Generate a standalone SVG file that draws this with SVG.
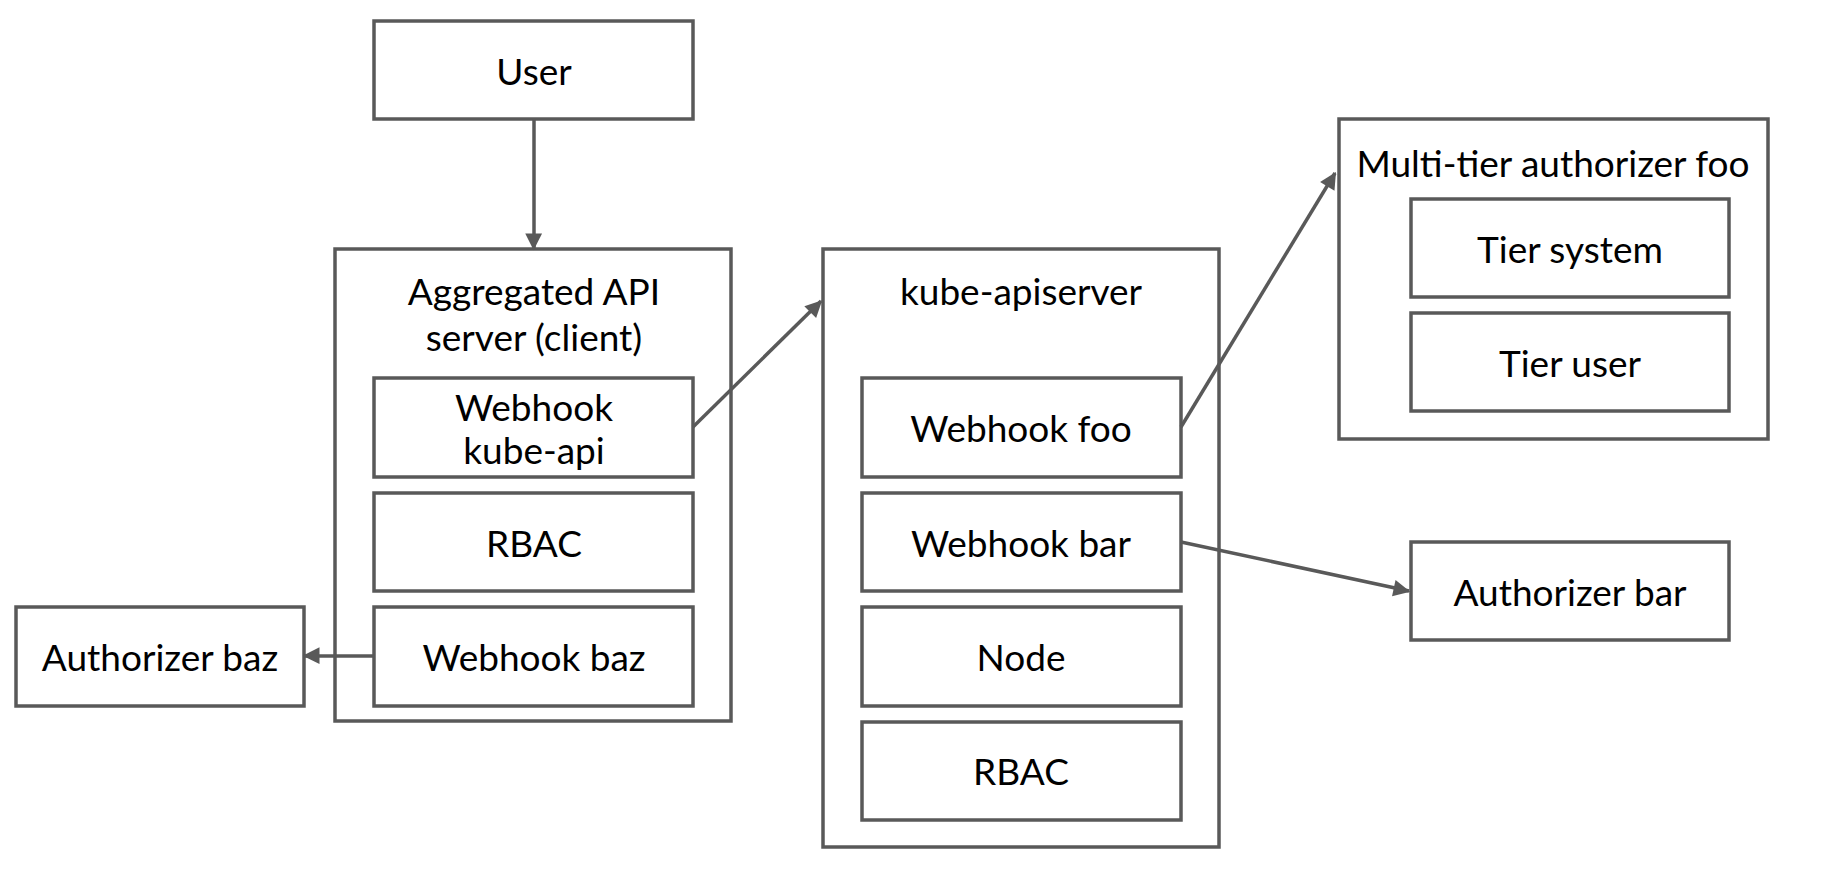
<svg xmlns="http://www.w3.org/2000/svg" width="1832" height="870" viewBox="0 0 1832 870">
<style>
rect{fill:#fff;stroke:#595959;stroke-width:3.5}
text{font-family:Lato,"Noto Sans",sans-serif;font-size:37px;fill:#000;text-anchor:middle;dominant-baseline:central}
.c line{stroke:#595959;stroke-width:3.5;marker-end:url(#a)}
</style>
<defs><marker id="a" viewBox="0 0 10 10" refX="9" refY="5" markerWidth="6" markerHeight="6" orient="auto" markerUnits="userSpaceOnUse" style="overflow:visible"><path d="M0,0L10,5L0,10z" fill="#595959" transform="scale(2.8) translate(-6,-3)"/></marker></defs>
<rect width="1832" height="870" style="fill:#fff;stroke:none"/>
<g id="user"><rect x="374" y="21" width="319" height="98"/><text x="534" y="70">User</text></g>
<g id="agg"><rect x="335" y="249" width="396" height="472"/><text x="534" y="290">Aggregated API</text><text x="534" y="336">server (client)</text></g>
<g id="whka"><rect x="374" y="378" width="319" height="99"/><text x="534" y="406">Webhook</text><text x="534" y="449">kube-api</text></g>
<g id="rbac1"><rect x="374" y="493" width="319" height="98"/><text x="534" y="542">RBAC</text></g>
<g id="whbaz"><rect x="374" y="607" width="319" height="99"/><text x="534" y="656">Webhook baz</text></g>
<g id="authbaz"><rect x="16" y="607" width="288" height="99"/><text x="160" y="656">Authorizer baz</text></g>
<g id="kube"><rect x="823" y="249" width="396" height="598"/><text x="1021" y="290">kube-apiserver</text></g>
<g id="whfoo"><rect x="862" y="378" width="319" height="99"/><text x="1021" y="427">Webhook foo</text></g>
<g id="whbar"><rect x="862" y="493" width="319" height="98"/><text x="1021" y="542">Webhook bar</text></g>
<g id="node"><rect x="862" y="607" width="319" height="99"/><text x="1021" y="656">Node</text></g>
<g id="rbac2"><rect x="862" y="722" width="319" height="98"/><text x="1021" y="770">RBAC</text></g>
<g id="multi"><rect x="1339" y="119" width="429" height="320"/><text x="1553" y="162">Multi-tier authorizer foo</text></g>
<g id="tiersys"><rect x="1411" y="199" width="318" height="98"/><text x="1570" y="248">Tier system</text></g>
<g id="tieruser"><rect x="1411" y="313" width="318" height="98"/><text x="1570" y="362">Tier user</text></g>
<g id="authbar"><rect x="1411" y="542" width="318" height="98"/><text x="1570" y="591">Authorizer bar</text></g>
<g class="c">
<line x1="534" y1="119" x2="534" y2="249"/>
<line x1="693" y1="427" x2="821" y2="301"/>
<line x1="374" y1="656" x2="304" y2="656"/>
<line x1="1181" y1="427" x2="1335" y2="173"/>
<line x1="1181" y1="542" x2="1409" y2="591"/>
</g>
</svg>
